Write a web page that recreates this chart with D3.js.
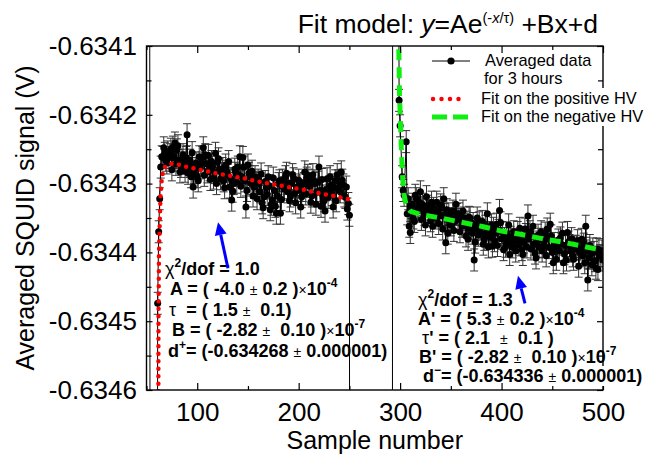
<!DOCTYPE html>
<html><head><meta charset="utf-8">
<script src="https://cdn.jsdelivr.net/npm/d3@7"></script>
<style>
body{margin:0;background:#fff}
text{font-family:"Liberation Sans",Arial,sans-serif;white-space:pre}
</style>
</head><body>
<svg id="c" width="662" height="460"></svg>
<script>
// ---------- data ----------
const sampleX = [53,54,60,61,62,63,64,65,66,68,70,71,72,74,76,78,80,82,84,86,87,88,90,91,93,94,96,98,100,102,104,106,108,110,112,114,116,118,120,122,124,126,128,130,132,134,136,138,140,142,144,146,148,150,152,154,156,158,160,162,164,166,168,170,172,174,176,178,180,182,184,186,188,190,192,194,196,198,200,202,204,206,208,210,212,214,216,218,220,222,224,226,228,230,232,234,236,238,240,242,244,246,248,250,251,
292,293,298,299,300,302,303,304,306,307,308,309,310,311,313,315,316,318,320,323,326,328,330,331,334,336,339,341,343,345,348,350,351,355,357,358,361,363,365,368,370,373,375,378,380,383,386,388,390,391,395,398,401,403,404,408,410,413,416,420,423,426,428,430,433,435,438,441,445,448,451,453,455,458,461,465,467,470,472,474,477,479,483,485,488,490,493,496,498,500];
const signal = [-0.6336,-0.6360,-0.6360,-0.634474,-0.634370,-0.634322,-0.634276,-0.634261,-0.634262,-0.634256,-0.634270,-0.634254,-0.634262,-0.634250,-0.634247,-0.634241,-0.634251,-0.634266,-0.634275,-0.634258,-0.634270,-0.634282,-0.634229,-0.634285,-0.634266,-0.634290,-0.634305,-0.634278,-0.634290,-0.634261,-0.634270,-0.634248,-0.634258,-0.634283,-0.634280,-0.634268,-0.634292,-0.634256,-0.634269,-0.634279,-0.634285,-0.634296,-0.634273,-0.634288,-0.634305,-0.634324,-0.634300,-0.634285,-0.634276,-0.634261,-0.634290,-0.634276,-0.634334,-0.634273,-0.634290,-0.634282,-0.634305,-0.634298,-0.634295,-0.634312,-0.634328,-0.634319,-0.634306,-0.634290,-0.634338,-0.634324,-0.634310,-0.634343,-0.634300,-0.634343,-0.634295,-0.634308,-0.634285,-0.634299,-0.634318,-0.634287,-0.634314,-0.634305,-0.634295,-0.634334,-0.634310,-0.634283,-0.634292,-0.634295,-0.634327,-0.634287,-0.634300,-0.634312,-0.634276,-0.634333,-0.634318,-0.634340,-0.634293,-0.634308,-0.634302,-0.634334,-0.634296,-0.634287,-0.634305,-0.634283,-0.634302,-0.634320,-0.634337,-0.634346,-0.6360,
-0.6360,-0.6330,-0.6336,-0.634179,-0.634216,-0.634290,-0.634310,-0.634317,-0.634239,-0.634344,-0.634322,-0.634362,-0.634371,-0.634335,-0.634350,-0.634317,-0.634322,-0.634335,-0.634312,-0.634337,-0.634319,-0.634340,-0.634354,-0.634327,-0.634345,-0.634327,-0.634347,-0.634335,-0.634322,-0.634386,-0.634344,-0.634360,-0.634351,-0.634330,-0.634352,-0.634344,-0.634362,-0.634350,-0.634376,-0.634349,-0.634365,-0.634411,-0.634366,-0.634357,-0.634372,-0.634381,-0.634344,-0.634371,-0.634360,-0.634391,-0.634359,-0.634339,-0.634371,-0.634380,-0.634391,-0.634403,-0.634385,-0.634381,-0.634371,-0.634396,-0.634366,-0.634347,-0.634370,-0.634376,-0.634401,-0.634385,-0.634381,-0.634391,-0.634366,-0.634359,-0.634415,-0.634395,-0.634396,-0.634379,-0.634415,-0.634371,-0.634390,-0.634405,-0.634392,-0.634391,-0.634400,-0.634381,-0.634362,-0.634440,-0.634401,-0.634395,-0.634423,-0.634396,-0.634405,-0.634411];
// further samples of the dense cloud
const extraX = [67,69,73,75,77,79,81,83,85,89,92,95,97,99,101,103,105,107,109,111,113,115,117,119,121,123,125,127,129,131,133,135,137,139,141,143,145,147,149,151,153,155,157,159,161,163,165,167,169,171,173,175,177,179,181,183,185,187,189,191,193,195,197,199,201,203,205,207,209,211,213,215,217,219,221,223,225,227,229,231,233,235,237,239,241,243,245,247,249,
312,314,317,319,321,322,324,325,327,329,332,333,335,337,338,340,342,344,346,347,349,352,353,354,356,359,360,362,364,366,367,369,371,372,374,376,377,379,381,382,384,385,387,389,392,393,394,396,397,399,400,402,405,406,407,409,411,412,414,415,417,418,419,421,422,424,425,427,429,431,432,434,436,437,439,440,442,443,444,446,447,449,450,452,454,456,457,459,460,462,463,464,466,468,469,471,473,475,476,478,480,481,482,484,486,487,489,491,492,494,495,497,499];
const extraY = [-0.634248,-0.634266,-0.634258,-0.634280,-0.634262,-0.634272,-0.634245,-0.634283,-0.634266,-0.634262,-0.634275,-0.634255,-0.634284,-0.634270,-0.634296,-0.634277,-0.634262,-0.634288,-0.634271,-0.634259,-0.634294,-0.634276,-0.634284,-0.634300,-0.634264,-0.634293,-0.634278,-0.634306,-0.634282,-0.634268,-0.634293,-0.634311,-0.634279,-0.634298,-0.634288,-0.634304,-0.634262,-0.634296,-0.634310,-0.634285,-0.634300,-0.634318,-0.634290,-0.634322,-0.634300,-0.634286,-0.634335,-0.634297,-0.634316,-0.634303,-0.634330,-0.634292,-0.634333,-0.634318,-0.634296,-0.634323,-0.634306,-0.634290,-0.634312,-0.634325,-0.634300,-0.634293,-0.634328,-0.634310,-0.634302,-0.634319,-0.634300,-0.634315,-0.634288,-0.634304,-0.634318,-0.634296,-0.634330,-0.634298,-0.634310,-0.634294,-0.634325,-0.634309,-0.634320,-0.634290,-0.634316,-0.634306,-0.634325,-0.634296,-0.634312,-0.634295,-0.634318,-0.634305,-0.634329,
-0.634330,-0.634355,-0.634340,-0.634327,-0.634352,-0.634330,-0.634345,-0.634360,-0.634333,-0.634341,-0.634362,-0.634336,-0.634350,-0.634340,-0.634358,-0.634331,-0.634366,-0.634345,-0.634338,-0.634372,-0.634352,-0.634340,-0.634368,-0.634355,-0.634345,-0.634370,-0.634352,-0.634340,-0.634360,-0.634356,-0.634381,-0.634350,-0.634372,-0.634358,-0.634385,-0.634350,-0.634375,-0.634366,-0.634355,-0.634388,-0.634362,-0.634372,-0.634392,-0.634378,-0.634365,-0.634383,-0.634372,-0.634390,-0.634368,-0.634357,-0.634380,-0.634396,-0.634372,-0.634385,-0.634360,-0.634378,-0.634392,-0.634370,-0.634398,-0.634382,-0.634389,-0.634365,-0.634380,-0.634403,-0.634385,-0.634374,-0.634392,-0.634380,-0.634395,-0.634362,-0.634388,-0.634408,-0.634375,-0.634392,-0.634370,-0.634398,-0.634384,-0.634372,-0.634405,-0.634380,-0.634393,-0.634376,-0.634400,-0.634387,-0.634410,-0.634382,-0.634398,-0.634388,-0.634372,-0.634402,-0.634390,-0.634411,-0.634385,-0.634398,-0.634380,-0.634410,-0.634395,-0.634383,-0.634420,-0.634395,-0.634405,-0.634388,-0.634415,-0.634398,-0.634408,-0.634390,-0.634418,-0.634400,-0.634412,-0.634395,-0.634425,-0.634405,-0.634398];
const errorBar = 0.000016;

const fitPosX = [61.6,61.8,62.3,63.0,63.8,64.8,66.0,67.5,70,74,80,88,100,115,130,145,160,175,190,205,220,235,250];
const fitPosY = [-0.63470,-0.63450,-0.63440,-0.634360,-0.634320,-0.634298,-0.634285,-0.634277,-0.634273,-0.634271,-0.634272,-0.634275,-0.634279,-0.634284,-0.634288,-0.634292,-0.634297,-0.634301,-0.634305,-0.634309,-0.634314,-0.634318,-0.634323];
const fitNegX = [298.3,298.7,299.4,300.4,301.5,302.6,303.8,305.5,308,310,320,340,360,380,400,420,440,460,480,500];
const fitNegY = [-0.63400,-0.63410,-0.634170,-0.634215,-0.634260,-0.634295,-0.634315,-0.634328,-0.634336,-0.634340,-0.634345,-0.634350,-0.634356,-0.634362,-0.634369,-0.634374,-0.634380,-0.634385,-0.634391,-0.634397];

const xMajorTicks = [100,200,300,400,500];
const xMinorTicks = [50,150,250,350,450];
const yMajorTicks = [-0.6346,-0.6345,-0.6344,-0.6343,-0.6342,-0.6341];
const yMinorTicks = [-0.63455,-0.63445,-0.63435,-0.63425,-0.63415];

// arrows in data coordinates [fromX, fromY, toX, toY]
const arrows = [[130.3,-0.634423,120.5,-0.634356],[423.1,-0.634474,416.2,-0.634434]];

// ---------- drawing ----------
const svg = d3.select("#c");
const L=146.5, R=603, T=46, B=390;
const x = d3.scaleLinear().domain([50,500]).range([L,R]);
const y = d3.scaleLinear().domain([-0.6346,-0.6341]).range([B,T]);

svg.append("rect").attr("width",662).attr("height",460).attr("fill","#fff");
svg.append("defs").append("clipPath").attr("id","clip")
  .append("rect").attr("x",L).attr("y",T).attr("width",R-L).attr("height",B-T);

const pts = d3.sort(
  sampleX.map((v,i)=>({x:v,y:signal[i]})).concat(extraX.map((v,i)=>({x:v,y:extraY[i]}))),
  d=>d.x);
const plot = svg.append("g").attr("clip-path","url(#clip)");

// error bars
const eb = plot.append("g").attr("stroke","#333").attr("stroke-width",1);
pts.forEach(p=>{
  const y1=y(p.y-errorBar), y2=y(p.y+errorBar), cx=x(p.x);
  eb.append("line").attr("x1",cx).attr("x2",cx).attr("y1",y1).attr("y2",y2);
  eb.append("line").attr("x1",cx-4).attr("x2",cx+4).attr("y1",y1).attr("y2",y1);
  eb.append("line").attr("x1",cx-4).attr("x2",cx+4).attr("y1",y2).attr("y2",y2);
});
// connecting line
plot.append("path").datum(pts)
  .attr("d",d3.line().x(d=>x(d.x)).y(d=>y(d.y)))
  .attr("fill","none").attr("stroke","#000").attr("stroke-width",1);
// dots
plot.append("g").selectAll("circle").data(pts).join("circle")
  .attr("cx",d=>x(d.x)).attr("cy",d=>y(d.y)).attr("r",3.5).attr("fill","#000");

// fits
const fitLine = d3.line().x(d=>x(d[0])).y(d=>y(d[1]));
plot.append("path").datum(fitPosX.map((v,i)=>[v,fitPosY[i]]))
  .attr("d",fitLine).attr("fill","none").attr("stroke","#ff0000")
  .attr("stroke-width",4.5).attr("stroke-linecap","round").attr("stroke-dasharray","0 7.5");
plot.append("path").datum(fitNegX.map((v,i)=>[v,fitNegY[i]]))
  .attr("d",fitLine).attr("fill","none").attr("stroke","#11ee11")
  .attr("stroke-width",5).attr("stroke-dasharray","11 7");

// frame
svg.append("rect").attr("x",L).attr("y",T).attr("width",R-L).attr("height",B-T)
  .attr("fill","none").attr("stroke","#000").attr("stroke-width",1.4);

// axes
function styleAxis(g){ g.select(".domain").remove(); g.selectAll("line").attr("stroke","#000").attr("stroke-width",1.2); }
svg.append("g").attr("transform",`translate(0,${B})`)
  .call(d3.axisBottom(x).tickValues(xMajorTicks).tickSize(-7).tickPadding(13).tickFormat(d3.format("d")))
  .call(styleAxis).call(g=>g.selectAll("text").attr("font-size",26).attr("font-family","Liberation Sans, Arial, sans-serif").attr("fill","#000"));
svg.append("g").attr("transform",`translate(0,${B})`)
  .call(d3.axisBottom(x).tickValues(xMinorTicks).tickSize(-4).tickFormat(""))
  .call(styleAxis);
svg.append("g").attr("transform",`translate(0,${T})`)
  .call(d3.axisTop(x).tickValues(xMajorTicks).tickSize(-7).tickFormat("")).call(styleAxis);
svg.append("g").attr("transform",`translate(0,${T})`)
  .call(d3.axisTop(x).tickValues(xMinorTicks).tickSize(-4).tickFormat("")).call(styleAxis);
svg.append("g").attr("transform",`translate(${L},0)`)
  .call(d3.axisLeft(y).tickValues(yMajorTicks).tickSize(-6).tickPadding(9.5).tickFormat(d3.format(".4f")))
  .call(styleAxis).call(g=>g.selectAll("text").attr("font-size",26).attr("font-family","Liberation Sans, Arial, sans-serif").attr("fill","#000").text(d=>d3.format(".4f")(d).replace("−","-")));
svg.append("g").attr("transform",`translate(${L},0)`)
  .call(d3.axisLeft(y).tickValues(yMinorTicks).tickSize(-5).tickFormat("")).call(styleAxis);
svg.append("g").attr("transform",`translate(${R},0)`)
  .call(d3.axisRight(y).tickValues(yMajorTicks).tickSize(-6).tickFormat("")).call(styleAxis);
svg.append("g").attr("transform",`translate(${R},0)`)
  .call(d3.axisRight(y).tickValues(yMinorTicks).tickSize(-5).tickFormat("")).call(styleAxis);

// axis titles
svg.append("text").attr("x",(L+R)/2).attr("y",449).attr("text-anchor","middle")
  .attr("font-size",25).text("Sample number");
svg.append("text").attr("transform",`translate(34,${(T+B)/2}) rotate(-90)`)
  .attr("text-anchor","middle").attr("font-size",25).text("Averaged SQUID signal (V)");

// title
const tt = svg.append("text").attr("x",598).attr("y",33).attr("text-anchor","end").attr("font-size",26.5);
tt.append("tspan").text("Fit model: ");
tt.append("tspan").attr("font-style","italic").text("y");
tt.append("tspan").text("=Ae");
tt.append("tspan").attr("font-size",14.5).attr("dy",-10).text("(-");
tt.append("tspan").attr("font-size",14.5).attr("font-style","italic").text("x");
tt.append("tspan").attr("font-size",14.5).text("/τ)");
tt.append("tspan").attr("dy",10).text(" +Bx+d");

// annotations
function annot(px,py,segs){
  const t = svg.append("text").attr("x",px).attr("y",py).attr("font-size",18).attr("font-weight","bold");
  let shift=0;
  segs.forEach(s=>{
    const sp = t.append("tspan");
    let dy=0;
    if(s.sup){ dy=-8-shift; shift=-8; sp.attr("font-size",12); }
    else { dy=-shift; shift=0; }
    if(dy) sp.attr("dy",dy);
    if(s.sm){ sp.attr("font-size",14).attr("font-weight","normal"); }
    if(s.reg){ sp.attr("font-weight","normal"); }
    sp.text(s.t);
  });
  return t;
}
// left block
annot(165,275,[{t:"χ",reg:1},{t:"2",sup:1},{t:"/dof = 1.0"}]);
annot(170,295,[{t:"A = ( -4.0 "},{t:"±",sm:1},{t:" 0.2 )"},{t:"×",sm:1},{t:"10"},{t:"-4",sup:1}]);
annot(169,316,[{t:"τ",reg:1},{t:"  = ( 1.5 "},{t:"±",sm:1},{t:"  0.1)"}]);
annot(172,336,[{t:"B = ( -2.82 "},{t:"±",sm:1},{t:"  0.10 )"},{t:"×",sm:1},{t:"10"},{t:"-7",sup:1}]);
annot(168,357,[{t:"d"},{t:"+",sup:1},{t:"= (-0.634268 "},{t:"±",sm:1},{t:" 0.000001)"}]);
// right block
svg.append("rect").attr("x",596).attr("y",366).attr("width",56).attr("height",20).attr("fill","#fff");
annot(418,306,[{t:"χ",reg:1},{t:"2",sup:1},{t:"/dof = 1.3"}]);
annot(418,325,[{t:"A' = ( 5.3 "},{t:"±",sm:1},{t:" 0.2 )"},{t:"×",sm:1},{t:"10"},{t:"-4",sup:1}]);
annot(422,344,[{t:"τ",reg:1},{t:"' = ( 2.1  "},{t:"±",sm:1},{t:"  0.1 )"}]);
annot(419,363,[{t:"B' = ( -2.82 "},{t:"±",sm:1},{t:"  0.10 )"},{t:"×",sm:1},{t:"10"},{t:"-7",sup:1}]);
annot(423,382,[{t:"d"},{t:"−",sup:1},{t:"= (-0.634336 "},{t:"±",sm:1},{t:" 0.000001)"}]);

// arrows
arrows.forEach(a=>{
  const x1=x(a[0]), y1=y(a[1]), x2=x(a[2]), y2=y(a[3]);
  const ang=Math.atan2(y2-y1,x2-x1), hl=13, hw=6;
  const bx=x2-hl*Math.cos(ang), by=y2-hl*Math.sin(ang);
  svg.append("line").attr("x1",x1).attr("y1",y1).attr("x2",bx).attr("y2",by)
    .attr("stroke","#0000ff").attr("stroke-width",3);
  svg.append("path").attr("fill","#0000ff")
    .attr("d",`M${x2},${y2}L${bx+hw*Math.sin(ang)},${by-hw*Math.cos(ang)}L${bx-hw*Math.sin(ang)},${by+hw*Math.cos(ang)}Z`);
});

// legend
svg.append("rect").attr("x",478).attr("y",88).attr("width",174).attr("height",38).attr("fill","#fff");
const lg = svg.append("g");
lg.append("line").attr("x1",432).attr("x2",470).attr("y1",61).attr("y2",61).attr("stroke","#000").attr("stroke-width",1);
lg.append("circle").attr("cx",451).attr("cy",61).attr("r",3.6).attr("fill","#000");
lg.append("text").attr("x",485).attr("y",66).attr("font-size",16.4).text("Averaged data");
lg.append("text").attr("x",484).attr("y",84).attr("font-size",16.4).text("for 3 hours");
lg.append("line").attr("x1",433).attr("x2",467).attr("y1",99).attr("y2",99).attr("stroke","#ff0000")
  .attr("stroke-width",4.5).attr("stroke-linecap","round").attr("stroke-dasharray","0 8.5");
lg.append("text").attr("x",481).attr("y",104).attr("font-size",16.4).text("Fit on the positive HV");
lg.append("line").attr("x1",432).attr("x2",468).attr("y1",117).attr("y2",117).attr("stroke","#11ee11")
  .attr("stroke-width",5).attr("stroke-dasharray","15 6");
lg.append("text").attr("x",481).attr("y",122).attr("font-size",16.4).text("Fit on the negative HV");
</script>
</body></html>
